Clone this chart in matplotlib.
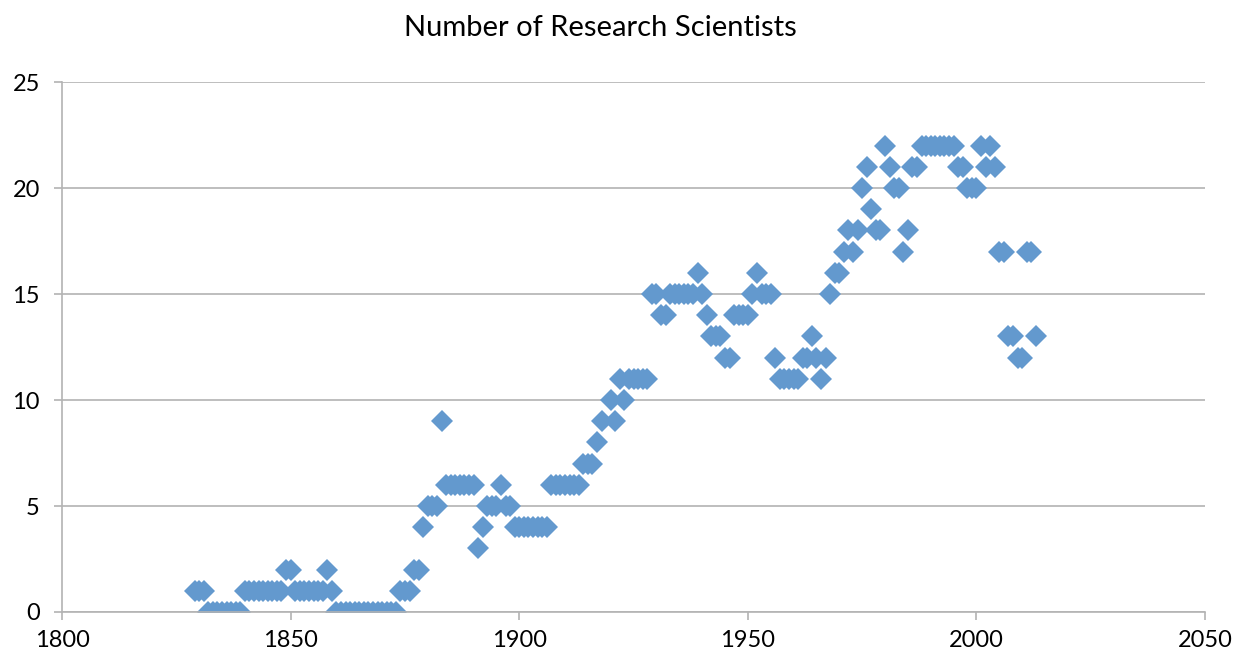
import matplotlib
matplotlib.use("Agg")
import matplotlib.pyplot as plt

# year -> number of research scientists
years = [1829, 1830, 1831,
         1832, 1833, 1834, 1835, 1836, 1837, 1838, 1839,
         1840, 1841, 1842, 1843, 1844, 1845, 1846, 1847, 1848,
         1849, 1850,
         1851, 1852, 1853, 1854, 1855, 1856, 1857, 1858, 1859,
         1860, 1861, 1862, 1863, 1864, 1865, 1866, 1867, 1868, 1869, 1870, 1871, 1872, 1873,
         1874, 1875, 1876, 1877, 1878, 1879, 1880, 1881, 1882, 1883,
         1884, 1885, 1886, 1887, 1888, 1889, 1890, 1891, 1892,
         1893, 1894, 1895, 1896, 1897, 1898,
         1899, 1900, 1901, 1902, 1903, 1904, 1905, 1906,
         1907, 1908, 1909, 1910, 1911, 1912, 1913,
         1914, 1915, 1916, 1917, 1918, 1920, 1921, 1922, 1923,
         1924, 1925, 1926, 1927, 1928,
         1929, 1930, 1931, 1932, 1933, 1934, 1935, 1936, 1937, 1938, 1939, 1940,
         1941, 1942, 1943, 1944, 1945, 1946, 1947, 1948, 1949, 1950,
         1951, 1952, 1953, 1954, 1955, 1956, 1957, 1958, 1959, 1960, 1961,
         1962, 1963, 1964, 1965, 1966, 1967, 1968, 1969, 1970,
         1971, 1972, 1973, 1974, 1975, 1976, 1977, 1978, 1979,
         1980, 1981, 1982, 1983, 1984, 1985, 1986, 1987,
         1988, 1989, 1990, 1991, 1992, 1993, 1994, 1995,
         1996, 1997, 1998, 1999, 2000, 2001, 2002, 2003, 2004,
         2005, 2006, 2007, 2008, 2009, 2010, 2011, 2012, 2013]
scientists = [1, 1, 1,
              0, 0, 0, 0, 0, 0, 0, 0,
              1, 1, 1, 1, 1, 1, 1, 1, 1,
              2, 2,
              1, 1, 1, 1, 1, 1, 1, 2, 1,
              0, 0, 0, 0, 0, 0, 0, 0, 0, 0, 0, 0, 0, 0,
              1, 1, 1, 2, 2, 4, 5, 5, 5, 9,
              6, 6, 6, 6, 6, 6, 6, 3, 4,
              5, 5, 5, 6, 5, 5,
              4, 4, 4, 4, 4, 4, 4, 4,
              6, 6, 6, 6, 6, 6, 6,
              7, 7, 7, 8, 9, 10, 9, 11, 10,
              11, 11, 11, 11, 11,
              15, 15, 14, 14, 15, 15, 15, 15, 15, 15, 16, 15,
              14, 13, 13, 13, 12, 12, 14, 14, 14, 14,
              15, 16, 15, 15, 15, 12, 11, 11, 11, 11, 11,
              12, 12, 13, 12, 11, 12, 15, 16, 16,
              17, 18, 17, 18, 20, 21, 19, 18, 18,
              22, 21, 20, 20, 17, 18, 21, 21,
              22, 22, 22, 22, 22, 22, 22, 22,
              21, 21, 20, 20, 20, 22, 21, 22, 21,
              17, 17, 13, 13, 12, 12, 17, 17, 13]

plt.rcParams['font.family'] = ['Lato', 'DejaVu Sans']

fig = plt.figure(figsize=(12.41, 6.57), dpi=100)
ax = fig.add_axes([0.050, 0.0685, 0.921, 0.8065])

ax.plot(years, scientists, linestyle='none', marker='D', markersize=11.2,
        color='#6399CE', markeredgewidth=0)

ax.set_xlim(1800, 2050)
ax.set_ylim(0, 25)
ax.set_xticks(range(1800, 2051, 50))
ax.set_yticks(range(0, 26, 5))
ax.yaxis.grid(True, color='#B3B3B3', linewidth=1.2)
ax.set_axisbelow(True)

for side in ['top', 'right']:
    ax.spines[side].set_visible(False)
for side in ['left', 'bottom']:
    ax.spines[side].set_color('#B3B3B3')
    ax.spines[side].set_linewidth(1.2)

ax.tick_params(axis='both', colors='#B3B3B3', labelcolor='black',
               labelsize=17, length=6, width=1.2)
ax.tick_params(axis='x', pad=7)
ax.tick_params(axis='y', pad=10)

fig.text(0.484, 0.957, 'Number of Research Scientists', ha='center', va='center',
         fontsize=21)

fig.savefig('out.png', dpi=100)
